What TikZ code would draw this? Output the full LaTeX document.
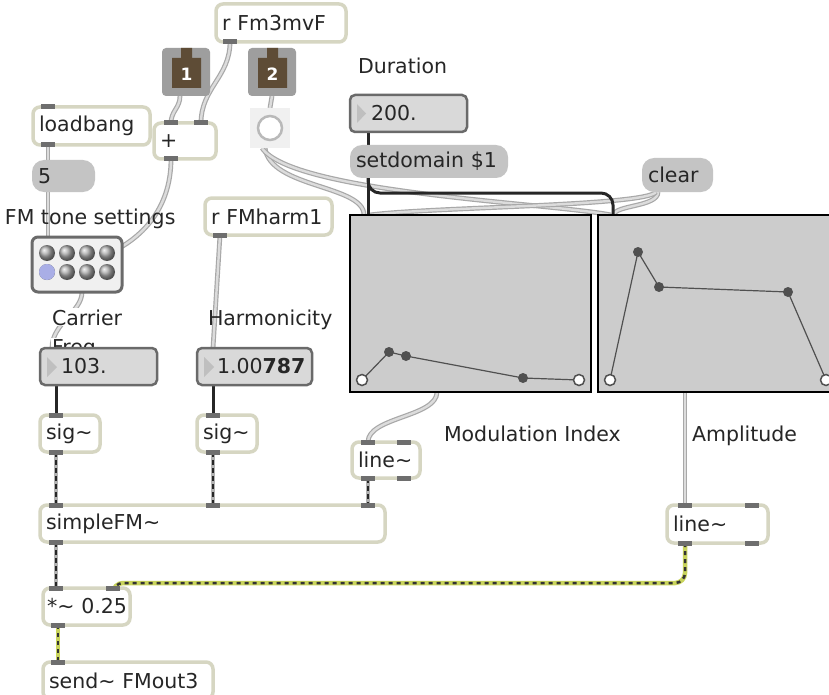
\documentclass[tikz,border=0pt]{standalone}
\usepackage{fontspec}
\setmainfont{DejaVu Sans}
\usetikzlibrary{backgrounds}

\definecolor{objedge}{HTML}{D6D6C2}
\definecolor{portcol}{HTML}{6E6E6E}
\definecolor{msgfill}{HTML}{C4C4C4}
\definecolor{numfill}{HTML}{D9D9D9}
\definecolor{numedge}{HTML}{6A6A6A}
\definecolor{cordgray}{HTML}{A8A8A8}
\definecolor{cordlight}{HTML}{DCDCDC}
\definecolor{inletbrown}{HTML}{5E4C36}
\definecolor{inletgray}{HTML}{9E9E9E}
\definecolor{funcfill}{HTML}{CCCCCC}
\definecolor{ptcol}{HTML}{505050}
\definecolor{gaincol}{HTML}{C9D45C}
\definecolor{lavender}{HTML}{A9AEE6}

\begin{document}
\begin{tikzpicture}[x=1pt, y=-1pt,
    every node/.style={font=\fontsize{20.5}{24}\selectfont, text=black!85, outer sep=0pt},
    obj/.style={draw=objedge, fill=white, line width=3.5pt, rounded corners=7pt, anchor=north west, inner xsep=6pt, inner ysep=0pt, align=left},
    msg/.style={fill=msgfill, rounded corners=12pt, anchor=north west, inner xsep=6pt, inner ysep=0pt, align=left},
    numbox/.style={draw=numedge, fill=numfill, line width=2.5pt, rounded corners=5pt, anchor=north west, inner xsep=6pt, inner ysep=0pt, align=left},
    inletbox/.style={fill=inletgray, rounded corners=4pt, minimum width=48pt, minimum height=48pt, anchor=north west, inner sep=0pt},
    funcbox/.style={draw=black, fill=funcfill, line width=2pt, minimum height=177pt, anchor=north west, inner sep=0pt},
    comment/.style={anchor=base west, inner sep=1pt},
    cord/.style={draw=cordgray, line width=1.2pt, double=cordlight, double distance=2.4pt},
    ctl/.style={draw=black!85, line width=3pt},
    sig/.style={draw=gray!60, line width=4pt, postaction={draw=black!85, line width=2pt, dash pattern=on 5pt off 3pt}},
    gain/.style={draw=gaincol, line width=4.5pt, postaction={draw=black!80, line width=2.5pt, dash pattern=on 4pt off 4pt}},
    port/.style={fill=portcol},
    fpt/.style={fill=ptcol},
    fopen/.style={fill=white, draw=ptcol, line width=1.5pt}]

\useasboundingbox (0,0) rectangle (829,695);

% top: receive, inlets, toggle
\node[obj, text width=118pt, minimum height=38pt] (fm3) at (216,4) {r Fm3mvF};
\node[inletbox] (inA) at (162,48) {};
\node[inletbox] (inB) at (248,48) {};
\fill[inletbrown] (172,58) rectangle (201,88) (181,48) rectangle (192,58);
\fill[inletbrown] (258,58) rectangle (287,88) (267,48) rectangle (278,58);
\node[text=white, font=\bfseries\fontsize{17}{20}\selectfont] (inAnum) at (186.5,74) {1};
\node[text=white, font=\bfseries\fontsize{17}{20}\selectfont] (inBnum) at (272.5,74) {2};
\node[fill=gray!12, minimum size=40pt, anchor=north west, inner sep=0pt] (btn) at (250,108) {};
\draw[gray!55, line width=2.5pt, fill=white] (btn.center) circle (12);
\node[obj, text width=50pt, minimum height=36pt] (plus) at (154,123) {+};

% preset section
\node[obj, text width=105pt, minimum height=38pt] (lb) at (33,107) {loadbang};
\node[msg, text width=51pt, minimum height=32pt] (five) at (32,160) {5};
\node[comment] (fmtxt) at (4,224) {FM tone settings};
\node[draw=numedge, fill=gray!12, line width=3pt, rounded corners=6pt, minimum width=90pt, minimum height=55pt, anchor=north west] (preset) at (32,237) {};
\foreach \i in {0,...,3}
  \foreach \j in {0,1}
    \shade[ball color=gray!65] (47+20*\i, 253+19*\j) circle (8);
\fill[lavender] (47,272) circle (8);

% carrier / harmonicity
\node[obj, text width=115pt, minimum height=37pt] (fmh) at (205,198) {r FMharm1};
\node[comment, fill=white] (cartxt) at (51,325) {Carrier};
\node[comment, fill=white] (freqtxt) at (51,354) {Freq};
\node[comment] (harmtxt) at (207,325) {Harmonicity};
\node[numbox, text width=105pt, minimum height=37pt] (freq) at (40,348) {\hspace*{15pt}103.};
\node[numbox, text width=103pt, minimum height=37pt] (harm) at (197,348) {\hspace*{14pt}1.00\textbf{787}};
\fill[gray!50] (47,357) -- (47,377) -- (57,367) -- cycle;
\fill[gray!50] (204,357) -- (204,377) -- (214,367) -- cycle;
\node[obj, text width=48pt, minimum height=37pt] (sigA) at (40,415) {sig\textasciitilde};
\node[obj, text width=48pt, minimum height=37pt] (sigB) at (197,415) {sig\textasciitilde};

% envelopes
\node[comment] (durtxt) at (357,74) {Duration};
\node[numbox, text width=105pt, minimum height=37pt] (dur) at (350,95) {\hspace*{15pt}200.};
\fill[gray!50] (357,104) -- (357,123) -- (366,113.5) -- cycle;
\node[msg, text width=146pt, minimum height=33pt] (setdom) at (350,145) {setdomain \$1};
\node[msg, text width=59pt, minimum height=34pt] (clear) at (642,158) {clear};
\node[funcbox, minimum width=241pt] (modfn) at (350,215) {};
\node[funcbox, minimum width=262pt] (ampfn) at (598,215) {};
\draw[ptcol, line width=1.2pt] (362,380) -- (389,352) -- (406,356) -- (523,378) -- (579,380);
\foreach \px/\py in {389/352, 406/356, 523/378} \fill[fpt] (\px,\py) circle (5);
\foreach \px/\py in {362/380, 579/380} \draw[fopen] (\px,\py) circle (5.5);
\draw[ptcol, line width=1.2pt] (610,380) -- (638,252) -- (659,287) -- (788,292) -- (826,380);
\foreach \px/\py in {638/252, 659/287, 788/292} \fill[fpt] (\px,\py) circle (5);
\foreach \px/\py in {610/380, 826/380} \draw[fopen] (\px,\py) circle (5.5);
\node[comment] (modtxt) at (443,441) {Modulation Index};
\node[comment] (amptxt) at (691,441) {Amplitude};
\node[obj, text width=56pt, minimum height=36pt] (lineM) at (352,442) {line\textasciitilde};
\node[obj, text width=89pt, minimum height=38pt] (lineA) at (667,505) {line\textasciitilde};

% synthesis and output
\node[obj, text width=333pt, minimum height=37pt] (sfm) at (40,505) {simpleFM\textasciitilde};
\node[obj, text width=79pt, inner xsep=4pt, minimum height=37pt] (times) at (43,588) {*\textasciitilde~0.25};
\node[obj, text width=158pt, minimum height=37pt] (send) at (43,662) {send\textasciitilde~FMout3};

% inlets and outlets
\foreach \px/\py in {48/107, 48/145, 230/42, 171/123, 201/123, 171/159, 220/235,
    56/415, 56/452, 213/415, 213/452, 368/442, 404/442, 368/478, 404/478,
    56/505, 213/505, 368/505, 56/542, 56/588, 113/588, 58/625, 58/662,
    685/505, 752/505, 685/543, 752/543}
  \fill[port] (\px-7,\py-2.5) rectangle (\px+7,\py+2.5);

\begin{pgfonlayer}{background}
\fill[white] (0,0) rectangle (829,695);
% control cords
\draw[cord] ([xshift=15pt]lb.south west) -- ([xshift=16pt]five.north west);
\draw[cord] ([xshift=16pt]five.south west) -- ([xshift=16pt]preset.north west);
\draw[cord] ([xshift=14pt]fm3.south west) .. controls +(0,35) and +(0,-35) .. ([xshift=47pt]plus.north west);
\draw[cord] ([xshift=-6pt]inA.south) .. controls +(0,12) and +(0,-12) .. ([xshift=17pt]plus.north west);
\draw[cord] (inB.south) -- (btn.north);
\draw[cord] ([xshift=17pt]plus.south west) .. controls +(0,45) and +(25,-15) .. ([yshift=18pt]preset.east);
\draw[cord] ([xshift=50pt]preset.south west) .. controls +(0,20) and +(0,-25) .. ([xshift=12pt]freq.north west);
\draw[cord] ([xshift=15pt]fmh.south west) -- ([xshift=16pt]harm.north west);
\draw[cord] ([xshift=87pt]modfn.south west) .. controls +(0,25) and +(0,-25) .. ([xshift=16pt]lineM.north west);
\draw[cord] ([xshift=87pt]ampfn.south west) -- ([xshift=18pt]lineA.north west);
\draw[cord] ([xshift=-5pt]btn.south) .. controls +(5,40) and +(0,-30) .. ([xshift=14pt]modfn.north west);
\draw[cord] ([xshift=-8pt]btn.south) .. controls +(30,45) and +(-60,-12) .. ([xshift=13pt]ampfn.north west);
\draw[cord] ([xshift=16pt]clear.south west) .. controls +(0,15) and +(0,-10) .. ([xshift=16pt]ampfn.north west);
\draw[cord] ([xshift=14pt]clear.south west) .. controls +(-10,14) and +(60,-8) .. ([xshift=20pt]modfn.north west);
\draw[ctl] ([xshift=16pt]freq.south west) -- ([xshift=16pt]sigA.north west);
\draw[ctl] ([xshift=16pt]harm.south west) -- ([xshift=16pt]sigB.north west);
\draw[ctl] ([xshift=18pt]dur.south west) -- ([xshift=18pt]setdom.north west);
\draw[ctl] ([xshift=18pt]setdom.south west) -- ([xshift=18pt]modfn.north west);
\draw[ctl, rounded corners=12pt] ([xshift=18pt]setdom.south west) |- ([xshift=15pt, yshift=22pt]ampfn.north west) -- ([xshift=15pt]ampfn.north west);
% signal cords
\draw[sig] ([xshift=16pt]sigA.south west) -- ([xshift=16pt]sfm.north west);
\draw[sig] ([xshift=16pt]sigB.south west) -- ([xshift=173pt]sfm.north west);
\draw[sig] ([xshift=16pt]lineM.south west) -- ([xshift=328pt]sfm.north west);
\draw[sig] ([xshift=16pt]sfm.south west) -- ([xshift=13pt]times.north west);
\draw[gain, rounded corners=10pt] ([xshift=18pt]lineA.south west) |- ([xshift=70pt, yshift=5pt]times.north west) -- ([xshift=70pt]times.north west);
\draw[gain] ([xshift=15pt]times.south west) -- ([xshift=15pt]send.north west);
\end{pgfonlayer}

\end{tikzpicture}
\end{document}
